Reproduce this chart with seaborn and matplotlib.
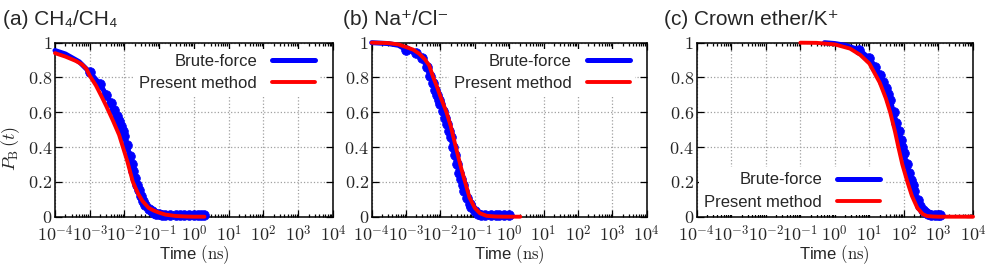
import numpy as np
import matplotlib
matplotlib.use("Agg")
import matplotlib.pyplot as plt
import seaborn as sns
from matplotlib.lines import Line2D
from matplotlib.ticker import LogLocator, FuncFormatter, FixedLocator, NullLocator

# ---- data ----
# (a) CH4/CH4
a_bf_t = [1e-4, 2e-4, 5e-4, 1e-3, 2e-3, 3e-3, 4e-3, 5e-3, 6e-3, 7e-3, 8e-3, 9e-3,
          0.010, 0.012, 0.014, 0.016, 0.018, 0.020, 0.023, 0.026, 0.030, 0.035,
          0.040, 0.050, 0.060, 0.070, 0.080, 0.10, 0.12, 0.15, 0.2, 0.3, 0.4,
          0.5, 0.7, 1.0, 1.3, 1.6, 2.0]
a_bf_p = [0.955, 0.935, 0.89, 0.83, 0.76, 0.70, 0.655, 0.615, 0.58, 0.55, 0.52, 0.49,
          0.465, 0.41, 0.35, 0.30, 0.26, 0.225, 0.185, 0.155, 0.12, 0.09,
          0.07, 0.045, 0.03, 0.022, 0.017, 0.014, 0.012, 0.011, 0.01, 0.01, 0.01,
          0.01, 0.01, 0.01, 0.01, 0.01, 0.01]
a_pm_t = [1e-4, 2e-4, 4e-4, 6e-4, 8e-4, 1e-3, 1.5e-3, 2.2e-3, 3e-3, 4.7e-3, 7e-3,
          9e-3, 0.012, 0.0174, 0.025, 0.033, 0.05, 0.07, 0.1, 0.15, 0.3, 0.6, 1.0, 2.0]
a_pm_p = [0.94, 0.92, 0.895, 0.875, 0.85, 0.81, 0.755, 0.69, 0.635, 0.55, 0.47,
          0.40, 0.32, 0.20, 0.13, 0.09, 0.05, 0.035, 0.023, 0.012, 0.004, 0.001, 0.0, 0.0]

# (b) Na+/Cl-
b_bf_t = [1e-4, 3e-4, 6e-4, 1e-3, 2e-3, 3e-3, 4e-3, 5e-3, 6e-3, 7e-3, 8e-3, 9e-3,
          0.010, 0.012, 0.014, 0.016, 0.018, 0.020, 0.023, 0.026, 0.030, 0.035,
          0.040, 0.045, 0.050, 0.060, 0.070, 0.080, 0.10, 0.12, 0.15, 0.2, 0.3,
          0.4, 0.5, 0.7, 1.0]
b_bf_p = [1.0, 0.995, 0.985, 0.96, 0.94, 0.91, 0.86, 0.81, 0.77, 0.73, 0.70, 0.67,
          0.645, 0.605, 0.565, 0.53, 0.495, 0.46, 0.40, 0.355, 0.30, 0.25,
          0.215, 0.18, 0.15, 0.11, 0.075, 0.055, 0.03, 0.018, 0.012, 0.01, 0.01,
          0.01, 0.01, 0.01, 0.01]
b_pm_t = [1e-4, 3e-4, 6e-4, 1e-3, 1.6e-3, 2.4e-3, 3.5e-3, 4.7e-3, 6.2e-3, 0.008,
          0.010, 0.015, 0.020, 0.028, 0.040, 0.052, 0.070, 0.10, 0.14, 0.22, 0.4, 0.8, 2.1]
b_pm_p = [1.0, 0.998, 0.99, 0.975, 0.96, 0.937, 0.905, 0.87, 0.80, 0.745,
          0.69, 0.60, 0.52, 0.40, 0.28, 0.20, 0.11, 0.05, 0.02, 0.005, 0.001, 0.0, 0.0]

# (c) Crown ether/K+
c_bf_t = [0.5, 1, 2, 5, 10, 15, 20, 25, 30, 35, 40, 50, 60, 70, 80, 90, 100, 120,
          140, 160, 180, 200, 250, 300, 350, 400, 500, 600, 800, 1000, 1100]
c_bf_p = [1.0, 0.995, 0.985, 0.96, 0.91, 0.86, 0.815, 0.775, 0.74, 0.705, 0.67,
          0.60, 0.54, 0.49, 0.44, 0.40, 0.365, 0.30, 0.25, 0.21, 0.18, 0.15, 0.095,
          0.06, 0.04, 0.025, 0.015, 0.012, 0.01, 0.01, 0.01]
c_pm_t = [0.1, 0.3, 1, 2.75, 5.4, 10, 20, 30, 40, 55, 69, 90, 126, 170, 245, 350,
          460, 700, 1000, 3000, 10000]
c_pm_p = [1.0, 0.999, 0.99, 0.966, 0.93, 0.88, 0.77, 0.68, 0.60, 0.49, 0.40, 0.30,
          0.20, 0.12, 0.05, 0.015, 0.004, 0.001, 0.0, 0.0, 0.0]

titles = ["(a) CH\u2084/CH\u2084", "(b) Na\u207a/Cl\u207b", "(c) Crown ether/K\u207a"]
marker_from = [1e-3, 1e-3, 5]
series_labels = ["Brute-force", "Present method"]
x_decades = [-4, -3, -2, -1, 0, 1, 2, 3, 4]
y_ticks = [0, 0.2, 0.4, 0.6, 0.8, 1]

# ---- style ----
sns.set_style("ticks")
plt.rcParams["font.family"] = ["Liberation Sans", "DejaVu Sans"]
plt.rcParams["mathtext.fontset"] = "cm"

fig = plt.figure(figsize=(9.96, 2.65), dpi=100)

ax_rects = [
    [0.0552, 0.1823, 0.2791, 0.6566],
    [0.3732, 0.1823, 0.2761, 0.6566],
    [0.6995, 0.1823, 0.2774, 0.6566],
]
legend_places = [
    dict(loc="upper right", bbox_to_anchor=(0.955, 0.965)),
    dict(loc="upper right", bbox_to_anchor=(0.958, 0.965)),
    dict(loc="lower right", bbox_to_anchor=(0.683, 0.01)),
]
title_x = [3, 343, 664]

data = [
    (a_bf_t, a_bf_p, a_pm_t, a_pm_p),
    (b_bf_t, b_bf_p, b_pm_t, b_pm_p),
    (c_bf_t, c_bf_p, c_pm_t, c_pm_p),
]

for i, (bf_t, bf_p, pm_t, pm_p) in enumerate(data):
    ax = fig.add_axes(ax_rects[i])

    mark = [t >= marker_from[i] for t in bf_t]
    sns.lineplot(x=bf_t, y=bf_p, ax=ax, color="#0000ff", lw=3.6, marker="o",
                 ms=7, mec="#0000ff", mew=0.5, markevery=mark,
                 clip_on=False, zorder=3, legend=False)
    sns.lineplot(x=pm_t, y=pm_p, ax=ax, color="#ff0000", lw=2.8,
                 clip_on=False, zorder=4, legend=False)

    ax.set_xscale("log")
    ax.set_xlim(1e-4, 1e4)
    ax.set_ylim(0, 1)

    ax.xaxis.set_major_locator(FixedLocator([10.0 ** d for d in x_decades]))
    ax.xaxis.set_minor_locator(LogLocator(base=10, subs=np.arange(2, 10), numticks=100))
    ax.xaxis.set_major_formatter(FuncFormatter(
        lambda v, _: "$10^{%d}$" % int(round(np.log10(v)))))
    ax.yaxis.set_major_locator(FixedLocator(y_ticks))
    ax.yaxis.set_minor_locator(NullLocator())
    ax.yaxis.set_major_formatter(FuncFormatter(lambda v, _: "$%g$" % v))

    ax.tick_params(which="both", direction="in", top=True, right=True,
                   color="black", width=0.9, labelsize=13)
    ax.tick_params(which="major", length=5)
    ax.tick_params(which="minor", length=2.5)
    ax.tick_params(axis="x", which="major", pad=6)
    ax.tick_params(axis="y", which="major", pad=2)

    for sp in ax.spines.values():
        sp.set_linewidth(1.1)
        sp.set_color("black")

    ax.grid(True, which="major", linestyle=":", linewidth=0.9, color="#a0a0a0")
    ax.set_axisbelow(True)

    ax.set_xlabel("Time $(\\mathrm{ns})$", fontsize=12, va="top")
    ax.xaxis.set_label_coords(0.5, -0.155)
    if i == 0:
        ax.set_ylabel("$P_{\\rm B}\\,(t)$", fontsize=13)
        ax.yaxis.set_label_coords(-0.12, 0.39)
    else:
        ax.set_ylabel("")

    handles = [Line2D([], [], color="#0000ff", lw=3.6),
               Line2D([], [], color="#ff0000", lw=2.8)]
    leg = ax.legend(handles, series_labels, fontsize=12, markerfirst=False,
                    frameon=True, framealpha=1, facecolor="white", edgecolor="none",
                    fancybox=False, borderpad=0.3, borderaxespad=0,
                    handlelength=2.6, handletextpad=0.9, labelspacing=0.45,
                    **legend_places[i])
    leg.set_zorder(5)

    fig.text(title_x[i] / 996, 1 - 25 / 265, titles[i], fontsize=15,
             ha="left", va="baseline")

fig.savefig("out.png", dpi=100)
